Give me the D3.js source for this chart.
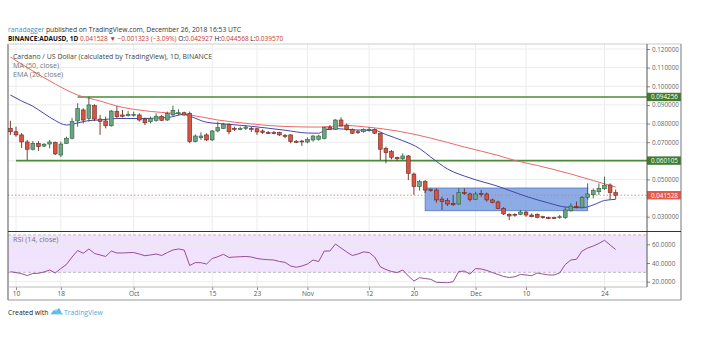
<!DOCTYPE html>
<html><head><meta charset="utf-8">
<script src="https://cdn.jsdelivr.net/npm/d3@7"></script>
<style>body{margin:0;background:#fff;} svg{display:block;font-family:"Open Sans",Lato,sans-serif;}</style>
</head><body><svg id="c" width="705" height="354"></svg>
<script>
// ---------- DATA ----------
const startDate = "2018-09-09";
const opens = [0.0774,0.0756,0.0739,0.0701,0.0662,0.0694,0.0679,0.0690,0.0699,0.0631,
0.0694,0.0721,0.0814,0.0873,0.0828,0.0896,0.0824,0.0814,0.0788,0.0864,
0.0846,0.0842,0.0846,0.0846,0.0824,0.0810,0.0817,0.0839,0.0819,0.0846,
0.0854,0.0858,0.0855,0.0703,0.0724,0.0739,0.0712,0.0760,0.0774,0.0796,
0.0774,0.0771,0.0774,0.0774,0.0772,0.0760,0.0751,0.0751,0.0751,0.0736,
0.0739,0.0704,0.0706,0.0701,0.0712,0.0715,0.0720,0.0778,0.0769,0.0819,
0.0792,0.0769,0.0756,0.0756,0.0767,0.0769,0.0748,0.0667,0.0649,0.0617,
0.0611,0.0626,0.0529,0.0462,0.0488,0.0446,0.0443,0.0394,0.0386,0.0372,
0.0368,0.0430,0.0422,0.0393,0.0425,0.0422,0.0390,0.0379,0.0345,0.0313,
0.0313,0.0313,0.0325,0.0309,0.0313,0.0300,0.0295,0.0295,0.0295,0.0295,
0.0332,0.0355,0.0351,0.0404,0.0418,0.0434,0.0450,0.0470,0.042927];
const highs = [0.0815,0.0783,0.0749,0.0712,0.0706,0.0706,0.0695,0.0712,0.0703,0.0703,
0.0730,0.0830,0.0909,0.0882,0.0944,0.0903,0.0846,0.0837,0.0873,0.0894,
0.0873,0.0867,0.0864,0.0855,0.0831,0.0837,0.0855,0.0846,0.0864,0.0896,
0.0876,0.0864,0.0864,0.0742,0.0753,0.0748,0.0765,0.0810,0.0804,0.0801,
0.0783,0.0783,0.0792,0.0783,0.0776,0.0769,0.0760,0.0760,0.0756,0.0744,
0.0742,0.0712,0.0712,0.0726,0.0739,0.0739,0.0783,0.0792,0.0823,0.0833,
0.0801,0.0774,0.0765,0.0774,0.0780,0.0774,0.0751,0.0676,0.0658,0.0622,
0.0640,0.0631,0.0536,0.0497,0.0497,0.0452,0.0452,0.0407,0.0400,0.0417,
0.0452,0.0452,0.0429,0.0434,0.0443,0.0429,0.0397,0.0386,0.0351,0.0318,
0.0318,0.0336,0.0332,0.0318,0.0318,0.0305,0.0300,0.0300,0.0309,0.0351,
0.0372,0.0381,0.0411,0.0479,0.0452,0.0479,0.0515,0.0479,0.044568];
const lows = [0.0739,0.0729,0.0669,0.0604,0.0656,0.0653,0.0674,0.0667,0.0631,0.0619,
0.0690,0.0715,0.0783,0.0801,0.0810,0.0814,0.0739,0.0774,0.0783,0.0828,
0.0833,0.0837,0.0837,0.0810,0.0792,0.0801,0.0810,0.0814,0.0814,0.0842,
0.0846,0.0842,0.0694,0.0699,0.0712,0.0706,0.0706,0.0753,0.0771,0.0742,
0.0760,0.0764,0.0765,0.0755,0.0739,0.0744,0.0744,0.0742,0.0733,0.0722,
0.0694,0.0696,0.0680,0.0694,0.0703,0.0708,0.0715,0.0765,0.0765,0.0783,
0.0762,0.0744,0.0744,0.0751,0.0756,0.0744,0.0604,0.0587,0.0608,0.0600,
0.0604,0.0497,0.0417,0.0440,0.0427,0.0434,0.0375,0.0336,0.0358,0.0358,
0.0363,0.0417,0.0381,0.0390,0.0407,0.0381,0.0372,0.0340,0.0309,0.0282,
0.0300,0.0308,0.0300,0.0297,0.0292,0.0289,0.0286,0.0288,0.0289,0.0288,
0.0327,0.0345,0.0345,0.0390,0.0399,0.0417,0.0443,0.0393,0.03957];
const closes = [0.0756,0.0739,0.0701,0.0662,0.0694,0.0676,0.0689,0.0701,0.0637,0.0690,
0.0721,0.0810,0.0880,0.0819,0.0900,0.0824,0.0812,0.0788,0.0867,0.0837,
0.0839,0.0850,0.0849,0.0819,0.0804,0.0828,0.0839,0.0817,0.0853,0.0871,
0.0858,0.0846,0.0703,0.0733,0.0733,0.0712,0.0760,0.0778,0.0796,0.0756,
0.0769,0.0773,0.0781,0.0769,0.0755,0.0753,0.0749,0.0748,0.0739,0.0733,
0.0703,0.0701,0.0703,0.0715,0.0733,0.0733,0.0778,0.0769,0.0819,0.0787,
0.0769,0.0748,0.0751,0.0769,0.0769,0.0748,0.0662,0.0644,0.0619,0.0611,
0.0626,0.0533,0.0462,0.0488,0.0443,0.0442,0.0390,0.0381,0.0368,0.0364,
0.0429,0.0427,0.0393,0.0422,0.0420,0.0390,0.0377,0.0345,0.0315,0.0304,
0.0308,0.0325,0.0309,0.0300,0.0297,0.0295,0.0292,0.0293,0.0300,0.0336,
0.0357,0.0354,0.0404,0.0422,0.0440,0.0452,0.0469,0.0429,0.041528];

// MA(50) readings (day index -> value)
const maDays = [0,4,8,10,12,16,19,25,29,32,37,43,49,55,60,64,69,75,81,87,90,94,100,104,108];
const maVals = [0.1157,0.1082,0.1012,0.0980,0.0953,0.0921,0.0894,0.0865,0.0855,0.0846,0.0819,0.0798,0.0784,0.0781,0.0789,0.0780,0.0760,0.0722,0.0674,0.0629,0.0602,0.0575,0.0529,0.0494,0.0459];
// EMA(20) readings
const emaDays = [0,2,4,6,8,10,12,14,16,19,23,28,31,32,35,39,43,49,53,55,56,58,61,65,67,70,73,75,78,82,87,92,96,99,102,104,106,108];
const emaVals = [0.0953,0.0921,0.0893,0.0854,0.0816,0.0792,0.0803,0.0816,0.0819,0.0827,0.0827,0.0832,0.0849,0.0840,0.0807,0.0796,0.0785,0.0764,0.0749,0.0748,0.0763,0.0773,0.0766,0.0763,0.0741,0.0708,0.0666,0.0620,0.0556,0.0508,0.0463,0.0409,0.0374,0.0352,0.0348,0.0363,0.0387,0.0393];
// RSI(14) per day
const rsiVals = [30.7,29.8,28.6,26.6,28.8,29.0,30.4,32.5,29.3,34.1,
38.4,46.4,53.4,50.4,55.0,50.2,48.6,47.0,52.8,50.7,
50.7,51.0,51.2,49.6,47.8,48.6,49.6,48.0,51.2,53.9,
55.0,53.9,37.3,40.5,40.3,38.9,44.8,46.7,49.3,45.9,
46.4,46.7,47.0,46.4,44.8,44.0,43.5,43.2,41.6,40.7,
36.8,35.4,36.8,38.9,43.2,41.6,52.8,52.8,60.3,56.0,
51.8,48.0,49.6,51.8,51.2,46.4,36.0,33.0,30.9,29.8,
32.5,26.1,20.7,24.3,23.4,22.6,19.4,19.1,18.9,20.0,
30.9,31.4,28.2,34.1,33.6,32.0,29.8,27.7,25.6,24.5,
25.3,27.7,27.2,26.4,29.3,28.2,27.2,27.2,29.3,38.4,
43.2,44.0,52.8,56.0,58.2,60.9,64.3,59.3,54.4];

const priceTicks = [0.03,0.04,0.05,0.06,0.07,0.08,0.09,0.10,0.11,0.12];
const rsiTicks = [20,40,60];
const rsiBands = [70,30];
const dateTicks = ["2018-09-10","2018-09-18","2018-10-01","2018-10-15","2018-10-23","2018-11-01","2018-11-12","2018-11-20","2018-12-01","2018-12-10","2018-12-24"];
const dateTickLabels = ["10","18","Oct","15","23","Nov","12","20","Dec","10","24"];
const levelStarts = ["2018-09-10","2018-09-21"];
const levelValues = [0.060105,0.094256];
const lastPrice = 0.041528;
const zoneDates = ["2018-11-22","2018-12-21"];
const zonePrices = [0.0332,0.0454];

// ---------- LAYOUT ----------
const L = 8, R = 647, FR = 681, TOP = 44, MB = 231.5, RB = 287, FB = 300;
const svg = d3.select("#c");
const parse = d3.utcParse("%Y-%m-%d");
const start = parse(startDate);
const dates = opens.map((_, i) => d3.utcDay.offset(start, i));
const x = d3.scaleUtc().domain([start, d3.utcDay.offset(start, 108)]).range([10.4, 615.7]);
const y = d3.scaleLinear().domain([0.03, 0.12]).range([216.7, 49]);
const yr = d3.scaleLinear().domain([20, 60]).range([281.7, 244.3]);

// header
const h1 = svg.append("text").attr("x", 8).attr("y", 32).attr("font-size", 7.2).attr("fill", "#333")
  .attr("textLength", 233).attr("lengthAdjust", "spacingAndGlyphs");
h1.append("tspan").attr("fill", "#3a8fd0").text("ranadagger");
h1.append("tspan").text(" published on TradingView.com, December 26, 2018 16:53 UTC");
const h2 = svg.append("text").attr("x", 8).attr("y", 41).attr("font-size", 6.5).attr("fill", "#222");
const red = "#c0392b";
[["BINANCE:ADAUSD, 1D ", "#111", "bold"], ["0.041528 ", red], ["▼ ", red], ["−0.001323 (−3.09%) ", red],
 ["O:", "#111"], ["0.042927 ", red], ["H:", "#111"], ["0.044568 ", red], ["L:", "#111"], ["0.039570", red]]
 .forEach(([t, c, w]) => h2.append("tspan").attr("fill", c).attr("font-weight", w || "normal").text(t));

// gridlines
const g = svg.append("g");
g.selectAll(".hg").data(priceTicks).join("line")
  .attr("x1", L).attr("x2", R).attr("y1", d => y(d)).attr("y2", d => y(d))
  .attr("stroke", "#ececec").attr("stroke-width", 1);
g.selectAll(".vg").data(dateTicks).join("line")
  .attr("x1", d => x(parse(d))).attr("x2", d => x(parse(d))).attr("y1", TOP).attr("y2", RB)
  .attr("stroke", "#ececec").attr("stroke-width", 1);

// RSI band
svg.append("rect").attr("x", L).attr("width", R - L).attr("y", yr(rsiBands[0])).attr("height", yr(rsiBands[1]) - yr(rsiBands[0]))
  .attr("fill", "#f1e3fd");
svg.selectAll(".rg").data(rsiTicks).join("line")
  .attr("x1", L).attr("x2", R).attr("y1", d => yr(d)).attr("y2", d => yr(d)).attr("stroke", "#ececec");
svg.selectAll(".rb").data(rsiBands).join("line")
  .attr("x1", L).attr("x2", R).attr("y1", d => yr(d)).attr("y2", d => yr(d))
  .attr("stroke", "#b0b0b0").attr("stroke-dasharray", "3,2").attr("stroke-width", 0.8);

// horizontal levels
svg.selectAll(".lv").data(levelValues).join("line")
  .attr("x1", (d, i) => x(parse(levelStarts[i]))).attr("x2", R)
  .attr("y1", d => y(d)).attr("y2", d => y(d)).attr("stroke", "#4a8a3a").attr("stroke-width", 1.6);

// zone
svg.append("rect").attr("x", x(parse(zoneDates[0]))).attr("width", x(parse(zoneDates[1])) - x(parse(zoneDates[0])))
  .attr("y", y(zonePrices[1])).attr("height", y(zonePrices[0]) - y(zonePrices[1]))
  .attr("fill", "#6d93dc").attr("fill-opacity", 0.78).attr("stroke", "#4f78c8").attr("stroke-width", 0.8);

// last price dotted line
svg.append("line").attr("x1", L).attr("x2", R).attr("y1", y(lastPrice)).attr("y2", y(lastPrice))
  .attr("stroke", "#e07070").attr("stroke-dasharray", "1.5,2").attr("stroke-width", 0.8);

// MA / EMA lines
const line = d3.line().curve(d3.curveMonotoneX);
svg.append("path").attr("d", line(maDays.map((d, i) => [x(d3.utcDay.offset(start, d)), y(maVals[i])])))
  .attr("fill", "none").attr("stroke", "#e86a6a").attr("stroke-width", 1);
svg.append("path").attr("d", line(emaDays.map((d, i) => [x(d3.utcDay.offset(start, d)), y(emaVals[i])])))
  .attr("fill", "none").attr("stroke", "#4646aa").attr("stroke-width", 1);

// candles
const bw = 3.8;
const cg = svg.append("g").selectAll("g").data(dates).join("g");
cg.append("line").attr("x1", d => x(d)).attr("x2", d => x(d))
  .attr("y1", (d, i) => y(highs[i])).attr("y2", (d, i) => y(lows[i]))
  .attr("stroke", (d, i) => closes[i] >= opens[i] ? "#2f5e40" : "#6a2a20").attr("stroke-width", 0.9);
cg.append("rect").attr("x", d => x(d) - bw / 2).attr("width", bw)
  .attr("y", (d, i) => y(Math.max(opens[i], closes[i])))
  .attr("height", (d, i) => Math.max(0.9, Math.abs(y(opens[i]) - y(closes[i]))))
  .attr("fill", (d, i) => closes[i] >= opens[i] ? "#6ba583" : "#d75442")
  .attr("stroke", (d, i) => closes[i] >= opens[i] ? "#2f5e40" : "#6a2a20").attr("stroke-width", 0.6);

// RSI line
svg.append("path").attr("d", d3.line().x((d, i) => x(dates[i])).y(d => yr(d))(rsiVals))
  .attr("fill", "none").attr("stroke", "#8b3d8b").attr("stroke-width", 0.9);

// legends
svg.append("text").attr("x", 13).attr("y", 59).attr("font-size", 7.2).attr("fill", "#444")
  .attr("textLength", 199).attr("lengthAdjust", "spacingAndGlyphs")
  .text("Cardano / US Dollar (calculated by TradingView), 1D, BINANCE");
svg.append("text").attr("x", 13).attr("y", 68).attr("font-size", 7.2).attr("fill", "#777").text("MA (50, close)");
svg.append("text").attr("x", 13).attr("y", 77).attr("font-size", 7.2).attr("fill", "#777").text("EMA (20, close)");
svg.append("text").attr("x", 13).attr("y", 242).attr("font-size", 7.2).attr("fill", "#777").text("RSI (14, close)");

// price axis
const special = levelValues.concat([lastPrice]);
const visTicks = priceTicks.filter(t => special.every(s => Math.abs(y(t) - y(s)) > 6));
const pa = svg.append("g").attr("transform", `translate(${R},0)`)
  .call(d3.axisRight(y).tickValues(visTicks).tickFormat(d3.format(".6f")).tickSize(3).tickPadding(2));
pa.select(".domain").remove();
pa.selectAll("text").attr("font-size", 6.3).attr("fill", "#666").attr("font-family", "'Open Sans',sans-serif");
pa.selectAll("line").attr("stroke", "#888");

// colored price labels
const lab = [[levelValues[1], "#3e7d2c"], [levelValues[0], "#3e7d2c"], [lastPrice, "#e05a4c"]];
lab.forEach(([v, c]) => {
  svg.append("rect").attr("x", R).attr("y", y(v) - 4.2).attr("width", FR - R).attr("height", 8.4).attr("fill", c);
  svg.append("text").attr("x", R + 4).attr("y", y(v) + 2.3).attr("font-size", 6.3).attr("fill", "#fff")
    .text(d3.format(".6f")(v));
});

// rsi axis
const ra = svg.append("g").attr("transform", `translate(${R},0)`)
  .call(d3.axisRight(yr).tickValues(rsiTicks).tickFormat(d3.format(".4f")).tickSize(3).tickPadding(2));
ra.select(".domain").remove();
ra.selectAll("text").attr("font-size", 6.3).attr("fill", "#666").attr("font-family", "'Open Sans',sans-serif");
ra.selectAll("line").attr("stroke", "#888");

// time axis
const ta = svg.append("g").attr("transform", `translate(0,${RB})`)
  .call(d3.axisBottom(x).tickValues(dateTicks.map(parse)).tickFormat((d, i) => dateTickLabels[i]).tickSize(3).tickPadding(1.5));
ta.select(".domain").remove();
ta.selectAll("text").attr("font-size", 6.5).attr("fill", "#555").attr("font-family", "'Open Sans',sans-serif");
ta.selectAll("line").attr("stroke", "#888");

// frame
const fr = svg.append("g").attr("stroke", "#555").attr("fill", "none").attr("stroke-width", 1);
fr.append("line").attr("x1", L).attr("x2", L).attr("y1", TOP).attr("y2", FB);
fr.append("line").attr("x1", L).attr("x2", FR).attr("y1", TOP).attr("y2", TOP).attr("stroke", "#ccc");
fr.append("line").attr("x1", R).attr("x2", R).attr("y1", TOP).attr("y2", RB);
fr.append("line").attr("x1", FR).attr("x2", FR).attr("y1", TOP).attr("y2", FB).attr("stroke", "#777");
fr.append("line").attr("x1", L).attr("x2", FR).attr("y1", MB).attr("y2", MB).attr("stroke", "#333").attr("stroke-width", 1.2);
fr.append("line").attr("x1", L).attr("x2", R).attr("y1", RB).attr("y2", RB).attr("stroke", "#bbb");
fr.append("line").attr("x1", L).attr("x2", FR).attr("y1", FB).attr("y2", FB).attr("stroke", "#999");

// footer
svg.append("text").attr("x", 8).attr("y", 314.5).attr("font-size", 6.8).attr("fill", "#222").text("Created with");
svg.append("path").attr("d", "M51,314 l3,-4 l2,2 l3,-4 l3,6 z").attr("fill", "#38a8e0");
svg.append("path").attr("d", "M51,314.5 q0,-3 3,-3 q1,-3 4,-2 q3,0 3,3 q2,0 2,2 z").attr("fill", "#6cc3ee").attr("opacity", 0.8);
svg.append("text").attr("x", 64).attr("y", 314.5).attr("font-size", 6.8).attr("fill", "#4aaee0").text("TradingView");
</script></body></html>
